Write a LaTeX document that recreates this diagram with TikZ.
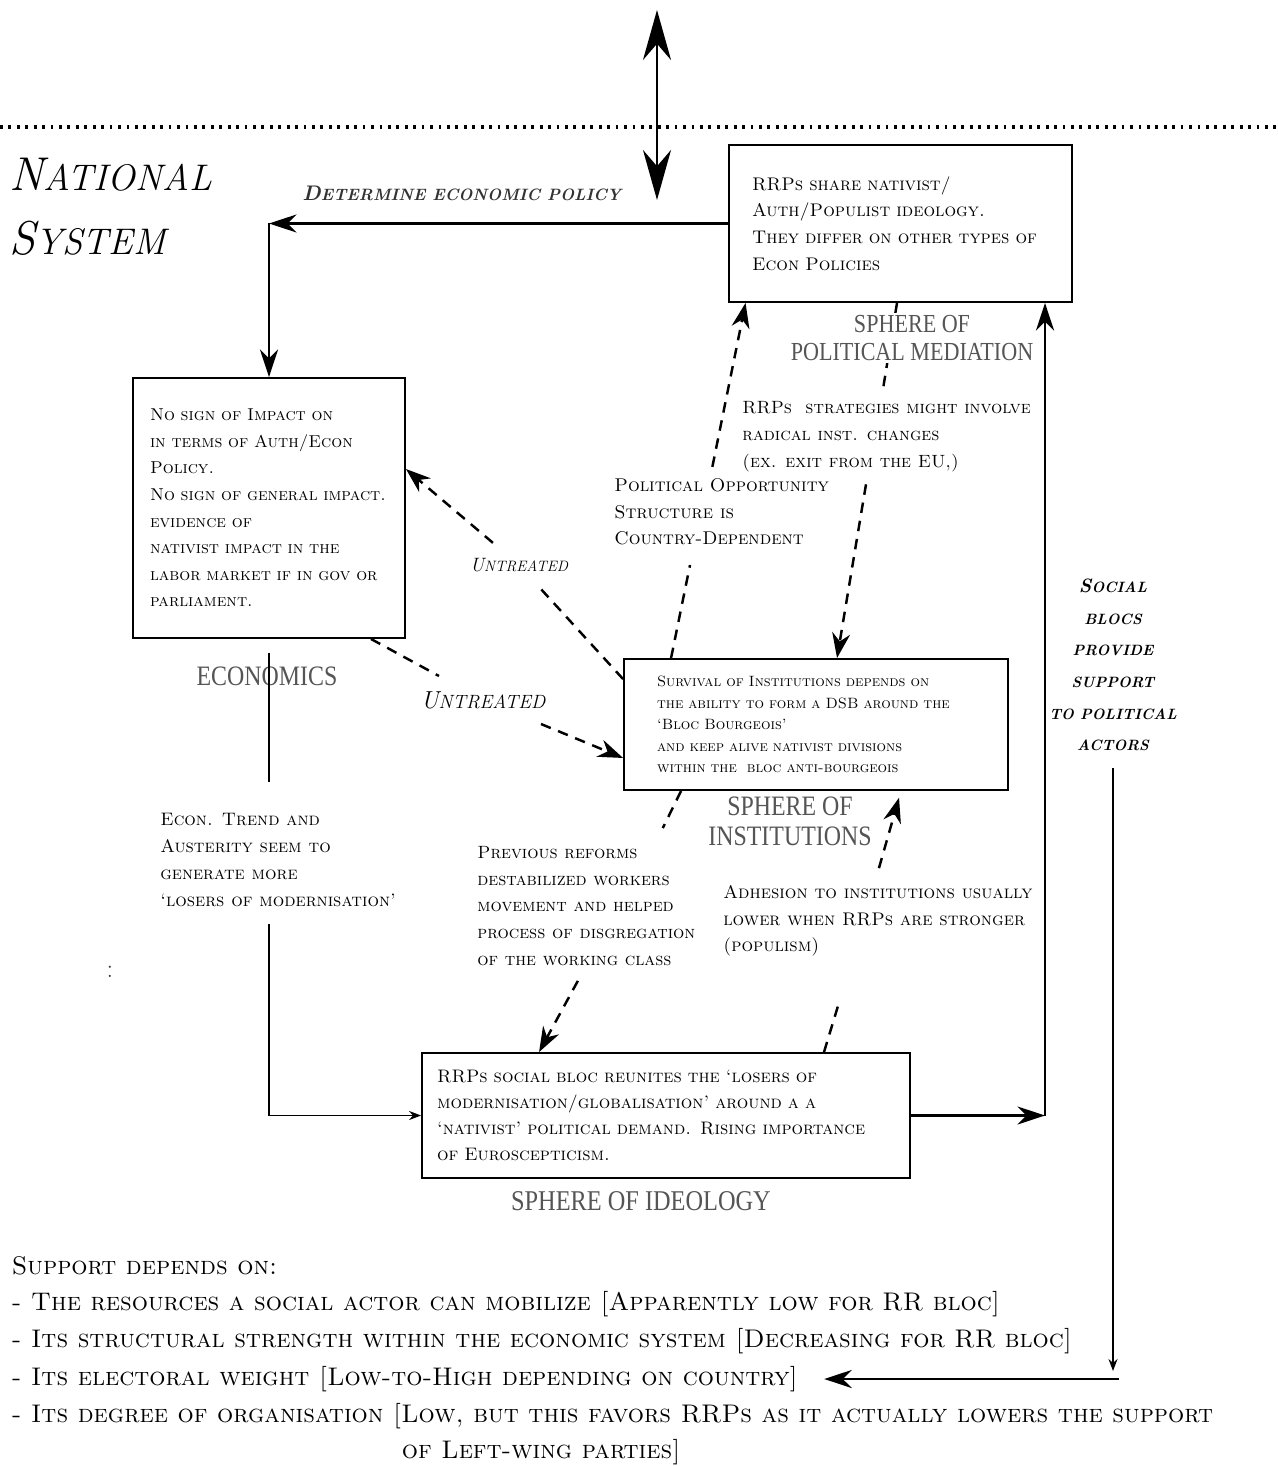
\documentclass[tikz,border=0pt]{standalone}
\usepackage{fontspec}
\usepackage{graphicx}
\usetikzlibrary{arrows.meta,positioning,calc}
\newfontfamily\spherefont[FakeStretch=0.85]{Liberation Serif}
\definecolor{rrSphere}{HTML}{555555}
\definecolor{rrLabel}{HTML}{333333}
\newcommand{\fsc}[2]{#1\scalebox{0.78}{#2}}
\tikzset{
    rrBox/.style={draw, fill=white, line width=1.1pt, align=left, inner ysep=0pt},
    rrNote/.style={align=left, inner sep=0pt, anchor=west},
    rrList/.style={anchor=west, inner sep=2pt, font=\fontsize{14.5}{18}\selectfont\scshape},
    rrSphere/.style={text=rrSphere, align=center, inner sep=1pt},
    rrFlowArrow/.style={-{Stealth[length=0.55cm,width=0.36cm]}, line width=1.6pt},
    rrThinLine/.style={line width=0.9pt},
    rrThinArrow/.style={-{Stealth[length=0.24cm,width=0.18cm]}, line width=0.9pt},
    rrDashLine/.style={line width=1.4pt, dash pattern=on 6pt off 4.5pt},
    rrDashArrow/.style={rrDashLine, -{Stealth[length=0.5cm,width=0.36cm]}}
}

\begin{document}
\begin{tikzpicture}[x=0.02cm, y=-0.02cm]
    \path[use as bounding box, fill=white] (0,0) rectangle (1277,1466);

    % Level separator and link to the supranational level
    \coordinate (levelL) at (0,127);
    \coordinate (levelR) at (1277,127);
    \draw[line width=2.2pt, dash pattern=on 1.6pt off 3.2pt] (levelL) -- (levelR);
    \coordinate (globalEnd) at (657,10);
    \coordinate (nationalEnd) at (657,200);
    \draw[{Stealth[length=1cm,width=0.56cm]}-{Stealth[length=1cm,width=0.56cm]}, line width=1.6pt] (globalEnd) -- (nationalEnd);

    % Title
    \node[anchor=west, inner xsep=0pt, font=\fontsize{27}{30}\selectfont\itshape] (natTitle) at (9,175) {\fsc{N}{ATIONAL}};
    \node[anchor=west, inner xsep=0pt, font=\fontsize{27}{30}\selectfont\itshape] (sysTitle) at (9,238) {\fsc{S}{YSTEM}};

    % Spheres
    \node[rrBox, minimum height=3.14cm, text width=5.94cm, inner xsep=0.46cm, font=\fontsize{10.4}{15.1}\selectfont\scshape] (pol) at (900.5,223.5)
        {RRPs share nativist/\\Auth/Populist ideology.\\They differ on other types of\\Econ Policies};
    \node[rrBox, minimum height=5.2cm, text width=4.76cm, inner xsep=0.34cm, font=\fontsize{9.8}{15.1}\selectfont\scshape] (econ) at (269,508)
        {No sign of Impact on\\in terms of Auth/Econ\\Policy.\\No sign of general impact.\\evidence of\\nativist impact in the\\labor market if in gov or\\parliament.\\[14pt]};
    \node[rrBox, minimum height=2.62cm, text width=6.36cm, inner xsep=0.66cm, font=\fontsize{8.5}{12.2}\selectfont\scshape] (inst) at (816,724.5)
        {Survival of Institutions depends on\\the ability to form a DSB around the\\`Bloc Bourgeois'\\and keep alive nativist divisions\\within the\ \ bloc anti-bourgeois};
    \node[rrBox, minimum height=2.5cm, text width=9.16cm, inner xsep=0.3cm, font=\fontsize{10.3}{14.9}\selectfont\scshape] (ideo) at (666,1115.5)
        {RRPs social bloc reunites the `losers of\\modernisation/globalisation' around a a\\`nativist' political demand. Rising importance\\of Euroscepticism.};

    % Notes on the links
    \node[rrNote, font=\fontsize{10.1}{15.3}\selectfont\scshape] (strat) at (742,437)
        {RRPs\ \ strategies might involve\\radical inst. changes\\(ex. exit from the EU,)};
    \node[rrNote, font=\fontsize{10.5}{15}\selectfont\scshape] (pos) at (614,512)
        {Political Opportunity\\Structure is\\Country-Dependent};
    \node[rrNote, font=\fontsize{10.3}{15.3}\selectfont\scshape] (trend) at (160,860)
        {Econ. Trend and\\Austerity seem to\\generate more\\`losers of modernisation'};
    \node[rrNote, font=\fontsize{10.1}{15.2}\selectfont\scshape] (prev) at (477,906)
        {Previous reforms\\destabilized workers\\movement and helped\\process of disgregation\\of the working class};
    \node[rrNote, font=\fontsize{10.4}{15}\selectfont\scshape] (adh) at (723,921)
        {Adhesion to institutions usually\\lower when RRPs are stronger\\(populism)};
    \node[font=\fontsize{11}{13}\selectfont\itshape, inner xsep=1pt, inner ysep=0.3cm] (untrA) at (519,565) {\fsc{U}{NTREATED}};
    \node[font=\fontsize{14}{16}\selectfont\itshape, inner xsep=1pt, inner ysep=0.3cm] (untrB) at (483,700) {\fsc{U}{NTREATED}};
    \node[align=center, inner sep=1pt, font=\fontsize{8.5}{18}\selectfont\bfseries\itshape] (soc) at (1113,665)
        {{\fontsize{11}{18}\selectfont S}OCIAL\\BLOCS\\PROVIDE\\SUPPORT\\TO POLITICAL\\ACTORS};
    \node[text=black!80, font=\fontsize{15}{16}\selectfont] (colonMark) at (110,972) {:};

    % Solid flows
    \coordinate (polTurn) at (econ.north |- pol.west);
    \draw[rrFlowArrow] (pol.west) -- node[pos=0.58, above=0.3cm, text=rrLabel, font=\fontsize{12}{14}\selectfont\bfseries\itshape] (detLbl) {\fsc{D}{ETERMINE ECONOMIC POLICY}} (polTurn);
    \draw[rrFlowArrow] (polTurn) -- (econ.north);
    \coordinate (rightRail) at (1045,0);
    \coordinate (ideoTurn) at (ideo.east -| rightRail);
    \draw[rrFlowArrow] (ideo.east) -- (ideoTurn);
    \draw[rrFlowArrow] (ideoTurn) -- (pol.south -| ideoTurn);
    \draw[rrThinArrow, shorten <=0.34cm] (econ.south |- trend.south) |- (ideo.west);

    % Dashed influences
    \draw[rrDashLine] ([yshift=-0.42cm]inst.north west) -- (untrA);
    \draw[rrDashArrow] (untrA) -- ([yshift=-1.84cm]econ.north east);
    \draw[rrDashLine] ([xshift=-0.7cm]econ.south east) -- (untrB);
    \draw[rrDashArrow] (untrB) -- ([yshift=0.66cm]inst.south west);
    \draw[rrDashLine, shorten >=0.4cm] ([xshift=0.96cm]inst.north west) -- ([xshift=1.6cm]pos.south west);
    \draw[rrDashArrow, shorten <=0.24cm] ([xshift=1.92cm]pos.north west) -- ([xshift=-3.1cm]pol.south);
    \draw[rrDashLine, shorten >=0.2cm] ([xshift=-0.07cm]pol.south) -- ([xshift=2.78cm]strat.north west);
    \draw[rrDashArrow, shorten <=0.24cm] ([xshift=2.52cm]strat.south west) -- ([xshift=4.28cm]inst.north west);
    \draw[rrDashLine, shorten >=0.4cm] ([xshift=1.16cm]inst.south west) -- ([xshift=3.54cm]prev.north west);
    \draw[rrDashArrow, shorten <=0.34cm] ([xshift=2.18cm]prev.south west) -- ([xshift=2.36cm]ideo.north west);
    \draw[rrDashLine, shorten >=0.94cm] ([xshift=8.06cm]ideo.north west) -- ([xshift=2.6cm]adh.south west);
    \draw[rrDashArrow, shorten <=0.36cm, shorten >=0.14cm] ([xshift=3.02cm]adh.north west) -- ([xshift=-2.16cm]inst.south east);

    % Sphere labels
    \node[rrSphere, fill=white, font=\spherefont\fontsize{14.8}{16.4}\selectfont] (sphPol) at (912,338) {SPHERE OF\\POLITICAL MEDIATION};
    \node[rrSphere, font=\spherefont\fontsize{16}{17}\selectfont] (sphEcon) at (267,676) {ECONOMICS};
    \node[rrSphere, font=\spherefont\fontsize{16}{17}\selectfont] (sphInst) at (790,821) {SPHERE OF\\INSTITUTIONS};
    \node[rrSphere, font=\spherefont\fontsize{16.3}{16}\selectfont] (sphIdeo) at (641,1201) {SPHERE OF IDEOLOGY};
    \draw[rrThinLine, shorten <=0.28cm, shorten >=0.62cm] (econ.south) -- (econ.south |- trend.north);

    % Support of the social blocs
    \node[rrList] (supHead) at (8,1266) {Support depends on:};
    \node[rrList] (supRes) at (8,1304) {- The resources a social actor can mobilize [Apparently low for RR bloc]};
    \node[rrList] (supStr) at (8,1341) {- Its structural strength within the economic system [Decreasing for RR bloc]};
    \node[rrList] (supElec) at (8,1379) {- Its electoral weight [Low-to-High depending on country]};
    \node[rrList] (supOrg) at (8,1416) {- Its degree of organisation [Low, but this favors RRPs as it actually lowers the support};
    \node[rrList] (supOrgB) at (398,1452) {of Left-wing parties]};
    \coordinate (supTurn) at (soc.south |- supElec.east);
    \draw[rrThinArrow, shorten <=0.3cm, shorten >=0.16cm] (soc.south) -- (supTurn);
    \draw[rrFlowArrow, shorten >=0.45cm] ([xshift=0.12cm]supTurn) -- (supElec.east);
\end{tikzpicture}
\end{document}
